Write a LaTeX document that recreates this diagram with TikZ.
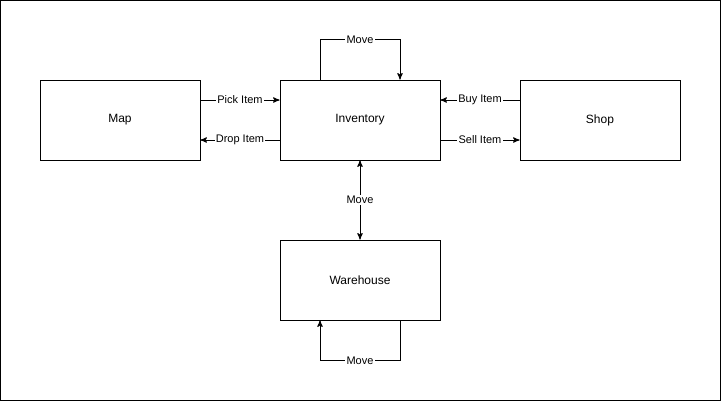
\documentclass[tikz,border=0pt]{standalone}
\usepackage{fontspec}
\setmainfont{Liberation Sans}
\usetikzlibrary{arrows}

\begin{document}
\begin{tikzpicture}[%
    x=0.75pt,
    y=-0.75pt,
    block/.style={
      rectangle,
      draw=black,
      inner sep=0pt,
      minimum width=120pt,
      minimum height=60pt,
      font=\fontsize{9}{11}\selectfont
    },
    lbl/.style={
      fill=white,
      inner sep=1pt,
      font=\fontsize{8.25}{10}\selectfont
    },
    line width=0.75pt,
    >=stealth'
    ]
    \useasboundingbox (0,0) rectangle (721,401);
    \draw (0.5,0.5) rectangle (720.5,400.5);

    \draw (120,120) node[block] (map) {Map};
    \draw (360,120) node[block] (inv) {Inventory};
    \draw (600,120) node[block] (shop) {Shop};
    \draw (360,280) node[block] (ware) {Warehouse};

    \draw [->] ([yshift=15pt]map.east) -- ([yshift=15pt]inv.west) node[midway,lbl] {Pick Item};
    \draw [->] ([yshift=-15pt]inv.west) -- ([yshift=-15pt]map.east) node[midway,lbl] {Drop Item};
    \draw [->] ([yshift=15pt]shop.west) -- ([yshift=15pt]inv.east) node[midway,lbl] {Buy Item};
    \draw [->] ([yshift=-15pt]inv.east) -- ([yshift=-15pt]shop.west) node[midway,lbl] {Sell Item};
    \draw [<->] (inv) -- (ware) node[midway,lbl] {Move};
    \draw [->] ([xshift=-30pt]inv.north) -- ++(0,-40) -| ([xshift=30pt]inv.north) node[pos=0.25,lbl] {Move};
    \draw [->] ([xshift=30pt]ware.south) -- ++(0,40) -| ([xshift=-30pt]ware.south) node[pos=0.25,lbl] {Move};
  \end{tikzpicture}
\end{document}
